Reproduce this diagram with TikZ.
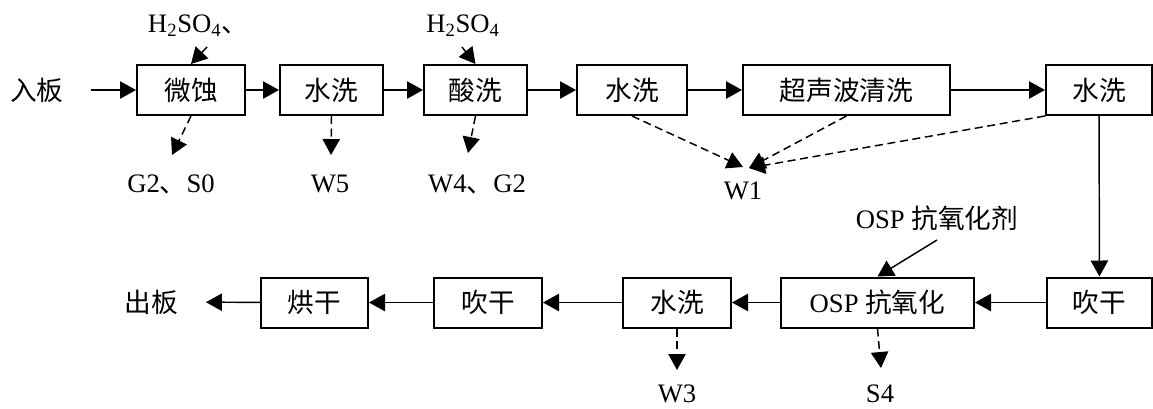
\documentclass[tikz,border=0pt]{standalone}
\usepackage{fontspec}
\setmainfont{Liberation Serif}
\newfontfamily\cjk{Noto Sans CJK SC}
\usetikzlibrary{arrows.meta,positioning}

\begin{document}
\begin{tikzpicture}[
  x=0.75pt,
  y=-0.75pt,
  font=\fontsize{20}{24}\selectfont,
  stage/.style={draw, line width=1.5pt, minimum width=#1, minimum height=37.5pt, inner sep=0pt},
  tag/.style={inner sep=1pt},
  flow/.style={-{Triangle[length=12pt, width=13pt]}, line width=1.1pt},
  waste/.style={flow, dash pattern=on 6pt off 3.5pt}
]
  \useasboundingbox (0,0) rectangle (1153,408);
  % Upper line: board in -> rinse
  \node[tag] (inlet) at (37, 90) {{\cjk 入板}};
  \node[stage=81pt]     (etch)   at (191, 90)    {{\cjk 微蚀}};
  \node[stage=77.25pt]  (rinseA) at (331.5, 90)  {{\cjk 水洗}};
  \node[stage=77.25pt]  (pickle) at (475.5, 90)  {{\cjk 酸洗}};
  \node[stage=82.5pt]   (rinseB) at (632, 90)    {{\cjk 水洗}};
  \node[stage=155.25pt] (sonic)  at (846.5, 90)  {{\cjk 超声波清洗}};
  \node[stage=79.5pt]   (rinseC) at (1099, 90)   {{\cjk 水洗}};
  % Lower line: back to the left
  \node[stage=78.75pt]  (blowA)  at (1099.5, 302.5) {{\cjk 吹干}};
  \node[stage=144.75pt] (osp)    at (877.5, 302.5)  {OSP {\cjk 抗氧化}};
  \node[stage=81pt]     (rinseD) at (677, 302.5)    {{\cjk 水洗}};
  \node[stage=81pt]     (blowB)  at (488, 302.5)    {{\cjk 吹干}};
  \node[stage=80.25pt]  (bake)   at (314.5, 302.5)  {{\cjk 烘干}};
  \node[tag] (outlet) at (151, 302) {{\cjk 出板}};
  % Inputs
  \node[tag] (acidA) at (198, 26) {H\textsubscript{2}SO\textsubscript{4}{\cjk 、}};
  \node[tag] (acidB) at (463, 26) {H\textsubscript{2}SO\textsubscript{4}};
  \node[tag] (agent) at (937, 218) {OSP {\cjk 抗氧化剂}};
  % Outputs
  \node[tag] (outEtch)   at (171, 184) {G2{\cjk 、}S0};
  \node[tag] (outRinseA) at (330, 184) {W5};
  \node[tag] (outPickle) at (477, 184) {W4{\cjk 、}G2};
  \node[tag] (outW1)     at (743, 191) {W1};
  \node[tag] (outRinseD) at (677, 394) {W3};
  \node[tag] (outOsp)    at (880, 394) {S4};
  % Free ends of the side arrows
  \coordinate (acidAend) at (207, 47);
  \coordinate (acidBend) at (462, 47);
  \coordinate (agentEnd) at (937, 240);
  \coordinate (etchTip)   at (172, 155);
  \coordinate (rinseATip) at (331, 155);
  \coordinate (pickleTip) at (468, 153);
  \coordinate (w1TipL)    at (743, 167);
  \coordinate (w1TipR)    at (749, 168);
  \coordinate (rinseDTip) at (677, 370);
  \coordinate (ospTip)    at (881, 368);
  % Main flow
  \draw[flow, shorten <=19.5pt] (inlet) -- (etch);
  \draw[flow] (etch) -- (rinseA);
  \draw[flow] (rinseA) -- (pickle);
  \draw[flow] (pickle) -- (rinseB);
  \draw[flow] (rinseB) -- (sonic);
  \draw[flow] (sonic) -- (rinseC);
  \draw[flow] (rinseC) -- (blowA);
  \draw[flow] (blowA) -- (osp);
  \draw[flow] (osp) -- (rinseD);
  \draw[flow] (rinseD) -- (blowB);
  \draw[flow] (blowB) -- (bake);
  \draw[flow, shorten >=20pt] (bake) -- (outlet);
  % Chemicals fed in
  \draw[flow] (acidAend) -- (etch.north);
  \draw[flow] (acidBend) -- (pickle.north);
  \draw[flow] (agentEnd) -- (osp.north);
  % Waste out
  \draw[waste] (etch.south) -- (etchTip);
  \draw[waste] (rinseA.south) -- (rinseATip);
  \draw[waste] (pickle.south) -- (pickleTip);
  \draw[waste] (rinseB.south) -- (w1TipL);
  \draw[waste] (sonic.south) -- (w1TipR);
  \draw[waste] (rinseC.south west) -- (w1TipR);
  \draw[waste] (rinseD.south) -- (rinseDTip);
  \draw[waste] (osp.south) -- (ospTip);
\end{tikzpicture}
\end{document}
